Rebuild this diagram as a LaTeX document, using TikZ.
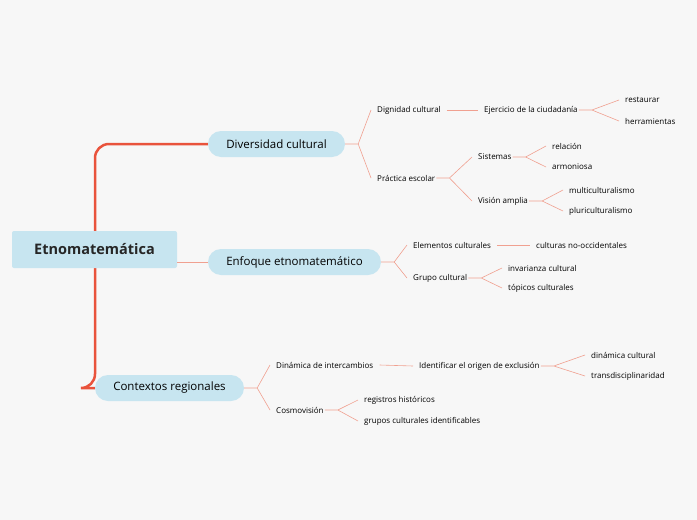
\documentclass[tikz,border=0pt]{standalone}
\usepackage{fontspec}
\setmainfont{Open Sans}
\definecolor{bg}{HTML}{F7F7F7}
\definecolor{pill}{HTML}{C7E5F0}
\definecolor{trunk}{HTML}{E9533C}
\definecolor{twig}{HTML}{F0A090}
\tikzset{
  pillbox/.style={fill=pill, rounded corners=13pt, minimum height=26pt, inner xsep=4pt, font=\fontsize{11.5}{13}\selectfont},
  leaf/.style={anchor=west, inner sep=1pt, font=\fontsize{8}{9}\selectfont},
  twigline/.style={draw=twig, line width=0.6pt}
}
\begin{document}
\begin{tikzpicture}[x=1pt,y=-1pt]
  \fill[bg] (0,0) rectangle (697,520);
  \useasboundingbox (0,0) rectangle (697,520);
  % main branches
  \node[pillbox, minimum width=137pt] (div) at (276.5,144) {Diversidad cultural};
  \node[pillbox, minimum width=173pt] (enf) at (294.5,262) {Enfoque etnomatemático};
  \node[pillbox, minimum width=149pt] (ctx) at (169.5,388) {Contextos regionales};
  \draw[trunk, line width=2.5pt, rounded corners=14pt] (div.west) -- (95,144) -- (95,388) -- (ctx.west);
  % root on top of the trunk
  \node[fill=pill, rounded corners=2pt, minimum width=165pt, minimum height=37pt, font=\fontsize{14.5}{16}\selectfont\bfseries, text=black!85] (root) at (94.5,249.5) {Etnomatemática};
  \draw[twigline] (root.east |- enf) -- (enf.west);
  % leaves
  \node[leaf] (dig) at (376,110) {Dignidad cultural};
  \node[leaf] (ejc) at (483,110) {Ejercicio de la ciudadanía};
  \node[leaf] (res) at (624,100) {restaurar};
  \node[leaf] (her) at (624,121) {herramientas};
  \node[leaf] (pra) at (376,178) {Práctica escolar};
  \node[leaf] (sis) at (477,157) {Sistemas};
  \node[leaf] (rel) at (551,146) {relación};
  \node[leaf] (arm) at (551,167) {armoniosa};
  \node[leaf] (vis) at (477,201) {Visión amplia};
  \node[leaf] (mul) at (568,190) {multiculturalismo};
  \node[leaf] (plu) at (568,211) {pluriculturalismo};
  \node[leaf] (ele) at (412,245) {Elementos culturales};
  \node[leaf] (cno) at (535,245) {culturas no-occidentales};
  \node[leaf] (gru) at (412,278) {Grupo cultural};
  \node[leaf] (inv) at (507,268) {invarianza cultural};
  \node[leaf] (top) at (507,288) {tópicos culturales};
  \node[leaf] (din) at (275,365) {Dinámica de intercambios};
  \node[leaf] (ide) at (418,366) {Identificar el origen de exclusión};
  \node[leaf] (dcu) at (590,355) {dinámica cultural};
  \node[leaf] (tra) at (590,376) {transdisciplinaridad};
  \node[leaf] (cos) at (275,410) {Cosmovisión};
  \node[leaf] (reg) at (363,400) {registros históricos};
  \node[leaf] (gci) at (363,421) {grupos culturales identificables};
  % forks
  \foreach \p/\a/\b in {div/dig/pra, ejc/res/her, pra/sis/vis, sis/rel/arm, vis/mul/plu,
                        enf/ele/gru, gru/inv/top, ctx/din/cos, ide/dcu/tra, cos/reg/gci}{
    \draw[twigline] (\p.east) -- ++(13,0) coordinate (f) -- ([xshift=-5pt]\a.west) (f) -- ([xshift=-5pt]\b.west);
  }
  % single links
  \foreach \p/\c in {dig/ejc, ele/cno, din/ide}{
    \draw[twigline] ([xshift=5pt]\p.east) -- ([xshift=-5pt]\c.west);
  }
\end{tikzpicture}
\end{document}
